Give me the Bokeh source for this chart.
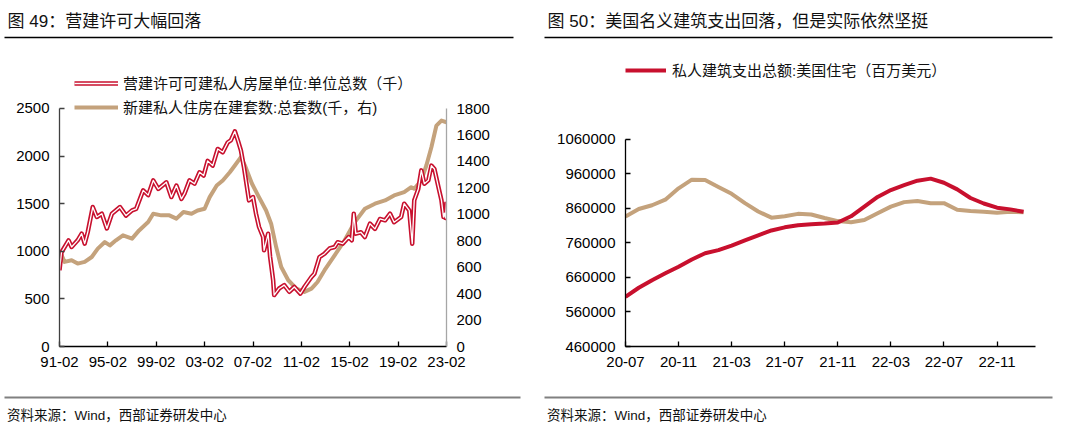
from bokeh.plotting import figure
from bokeh.models import Range1d, LinearAxis, FixedTicker, Legend, LegendItem, NumeralTickFormatter
from bokeh.layouts import column, row
from bokeh.embed import file_html
from bokeh.resources import INLINE
from bokeh.core.properties import value

RED = "#C8102E"
TAN = "#C4A27C"
NUM_FONT = "Liberation Sans"
CJK_FONT = "Liberation Sans, Noto Sans CJK SC"

# ---------------- data: chart 49 ----------------
permit_dates = ["1991-02", "1991-04", "1991-11", "1992-02", "1992-08", "1992-12", "1993-03", "1993-06",
                "1993-11", "1994-03", "1994-08", "1995-01", "1995-06", "1996-02", "1996-08", "1997-02",
                "1997-06", "1998-01", "1998-06", "1998-11", "1999-04", "1999-12", "2000-05", "2000-10",
                "2001-03", "2001-06", "2001-11", "2002-04", "2002-09", "2003-01", "2003-05", "2003-10",
                "2004-03", "2004-08", "2005-01", "2005-04", "2005-08", "2005-11", "2006-02", "2006-05",
                "2006-07", "2006-10", "2007-02", "2007-05", "2007-08", "2007-12", "2008-01", "2008-05",
                "2008-07", "2008-10", "2008-11", "2009-04", "2009-09", "2010-02", "2010-07", "2011-01",
                "2011-05", "2011-12", "2012-03", "2012-06", "2012-08", "2013-01", "2013-06", "2013-11",
                "2014-02", "2014-07", "2015-01", "2015-04", "2015-06", "2015-08", "2016-01", "2016-05",
                "2016-10", "2017-03", "2017-08", "2018-01", "2018-06", "2018-10", "2019-05", "2019-08",
                "2020-01", "2020-04", "2020-06", "2020-10", "2021-01", "2021-04", "2021-08", "2021-11",
                "2022-02", "2022-06", "2022-09", "2022-11", "2022-12", "2023-01", "2023-02"]
permit_values = [800, 990, 1115, 1045, 1115, 1185, 1080, 1200,
                 1465, 1360, 1395, 1240, 1395, 1465, 1375, 1430,
                 1445, 1640, 1590, 1745, 1655, 1725, 1570, 1690,
                 1550, 1605, 1745, 1710, 1830, 1795, 1950, 1900,
                 2075, 2040, 2145, 2165, 2260, 2165, 2060, 1885,
                 1745, 1535, 1570, 1395, 1255, 1150, 1010, 1185,
                 940, 695, 540, 610, 645, 575, 625, 555,
                 625, 730, 765, 870, 940, 975, 1030, 1045,
                 1095, 1080, 1150, 1115, 1395, 1185, 1200, 1150,
                 1290, 1235, 1340, 1325, 1395, 1305, 1360, 1500,
                 1430, 1080, 1535, 1655, 1850, 1710, 1745, 1900,
                 1865, 1675, 1535, 1360, 1400, 1350, 1520]

starts_dates = ["1991-02", "1991-07", "1992-02", "1992-08", "1993-03", "1993-10", "1994-04", "1994-11",
                "1995-04", "1995-10", "1996-05", "1997-02", "1997-09", "1998-06", "1998-11", "1999-07",
                "2000-03", "2000-10", "2001-05", "2002-01", "2002-07", "2003-02", "2003-07", "2004-02",
                "2004-08", "2005-03", "2005-08", "2006-02", "2006-06", "2007-01", "2007-07", "2008-03",
                "2008-08", "2009-01", "2009-06", "2010-01", "2010-09", "2011-05", "2011-12", "2012-03",
                "2012-06", "2013-01", "2013-11", "2014-09", "2015-07", "2016-05", "2017-03", "2018-01",
                "2018-10", "2019-08", "2020-03", "2020-06", "2021-01", "2021-06", "2021-11", "2022-04",
                "2022-09", "2023-02"]
starts_values = [727, 640, 652, 627, 640, 677, 740, 790,
                 765, 803, 841, 816, 878, 941, 1004, 992,
                 992, 967, 1017, 1004, 1029, 1042, 1130, 1218,
                 1256, 1318, 1369, 1432, 1369, 1231, 1143, 1029,
                 929, 752, 601, 501, 438, 413, 438, 463,
                 488, 577, 690, 803, 941, 1042, 1080, 1105,
                 1143, 1168, 1205, 1193, 1256, 1369, 1507, 1671,
                 1709, 1696]

x49_ticks = [0, 48, 96, 144, 192, 240, 288, 336, 384]
x49_labels = ["91-02", "95-02", "99-02", "03-02", "07-02", "11-02", "15-02", "19-02", "23-02"]
y49_left_ticks = [0, 500, 1000, 1500, 2000, 2500]
y49_right_ticks = [0, 200, 400, 600, 800, 1000, 1200, 1400, 1600, 1800]

# ---------------- data: chart 50 ----------------
spend_months = ["2020-07", "2020-08", "2020-09", "2020-10", "2020-11", "2020-12", "2021-01", "2021-02",
                "2021-03", "2021-04", "2021-05", "2021-06", "2021-07", "2021-08", "2021-09", "2021-10",
                "2021-11", "2021-12", "2022-01", "2022-02", "2022-03", "2022-04", "2022-05", "2022-06",
                "2022-07", "2022-08", "2022-09", "2022-10", "2022-11", "2022-12", "2023-01"]
nominal_values = [604000, 630000, 652000, 672000, 691000, 712000, 730000, 739000,
                  752000, 767000, 782000, 796000, 805000, 811000, 814000, 816000,
                  819000, 837000, 865000, 893000, 913000, 927000, 940000, 946000,
                  934000, 915000, 890000, 874000, 862000, 857000, 850000]
real_values = [836000, 858000, 869000, 885000, 918000, 943000, 942000, 922000,
               902000, 875000, 851000, 833000, 837000, 844000, 842000, 832000,
               823000, 820000, 826000, 846000, 865000, 878000, 881000, 875000,
               875000, 856000, 852000, 850000, 847000, 850000, 849000]
x50_ticks = [0, 4, 8, 12, 16, 20, 24, 28]
x50_labels = ["20-07", "20-11", "21-03", "21-07", "21-11", "22-03", "22-07", "22-11"]
y50_ticks = [460000, 560000, 660000, 760000, 860000, 960000, 1060000]

titles = ["图 49：营建许可大幅回落", "图 50：美国名义建筑支出回落，但是实际依然坚挺"]
source_text = "资料来源：Wind，西部证券研发中心"


def month_index(s, y0, m0):
    y, m = s.split("-")
    return (int(y) - y0) * 12 + int(m) - m0


def style_axis(ax, tick_in=5, line_color="black"):
    ax.major_tick_in = tick_in
    ax.major_tick_out = 0
    ax.minor_tick_line_color = None
    ax.axis_line_color = line_color
    ax.axis_line_width = 1.3
    ax.major_tick_line_color = line_color
    ax.major_tick_line_width = 1.3
    ax.major_label_text_font = NUM_FONT
    ax.major_label_text_font_size = "15px"
    ax.major_label_text_color = "black"
    ax.major_label_standoff = 10


# ---------------- top strip ----------------
top = figure(width=1071, height=45, x_range=Range1d(0, 1071), y_range=Range1d(45, 0),
             toolbar_location=None, output_backend="svg", min_border=0,
             x_axis_location=None, y_axis_location=None)
top.grid.visible = False
top.outline_line_color = None
top.text(x=[7, 547], y=[20.5, 20.5], text=titles, text_font=value(CJK_FONT),
         text_font_size="17px", text_baseline="middle", text_align="left", text_color="#111111")
top.segment(x0=[4, 544], y0=[37, 37], x1=[513, 1052], y1=[37, 37], line_color="black", line_width=1.5)

# ---------------- bottom strip ----------------
bot = figure(width=1071, height=42, x_range=Range1d(0, 1071), y_range=Range1d(42, 0),
             toolbar_location=None, output_backend="svg", min_border=0,
             x_axis_location=None, y_axis_location=None)
bot.grid.visible = False
bot.outline_line_color = None
bot.segment(x0=[4, 544], y0=[7, 7], x1=[520, 1052], y1=[7, 7], line_color="#808080", line_width=2)
bot.text(x=[6.5, 546.5], y=[25, 25], text=[source_text, source_text], text_font=value(CJK_FONT),
         text_font_size="13.5px", text_baseline="middle", text_align="left", text_color="#111111")

# ---------------- chart 49 ----------------
px = [month_index(d, 1991, 2) for d in permit_dates]
sx = [month_index(d, 1991, 2) for d in starts_dates]

p1 = figure(width=545, height=345, x_range=Range1d(0, 384), y_range=Range1d(0, 2983),
            toolbar_location=None, output_backend="svg",
            min_border_left=59, min_border_right=99, min_border_top=17, min_border_bottom=44)
p1.extra_y_ranges = {"right": Range1d(0, 2148)}
p1.grid.visible = False
p1.outline_line_color = None

r_tan = p1.line(sx, starts_values, y_range_name="right", line_color=TAN, line_width=4, line_join="round")
r_red = p1.line(px, permit_values, line_color=RED, line_width=4.5, line_join="round")
r_white = p1.line(px, permit_values, line_color="white", line_width=1.3, line_join="round")

p1.xaxis.ticker = FixedTicker(ticks=x49_ticks)
p1.xaxis.major_label_overrides = dict(zip(x49_ticks, x49_labels))
style_axis(p1.xaxis[0])
p1.yaxis.ticker = FixedTicker(ticks=y49_left_ticks)
p1.yaxis.bounds = (0, 2500)
style_axis(p1.yaxis[0], line_color="#404040")

ax_r = LinearAxis(y_range_name="right", ticker=FixedTicker(ticks=y49_right_ticks), bounds=(0, 1800))
style_axis(ax_r, tick_in=0, line_color="#A6A6A6")
ax_r.major_tick_line_color = None
p1.add_layout(ax_r, "right")

leg1 = Legend(items=[LegendItem(label="营建许可可建私人房屋单位:单位总数（千）", renderers=[r_red, r_white]),
                     LegendItem(label="新建私人住房在建套数:总套数(千，右)", renderers=[r_tan])],
              location=(15, 229), label_text_font=CJK_FONT, label_text_font_size="15px",
              label_text_color="#111111",
              glyph_width=44, glyph_height=20, label_height=20, padding=4, spacing=3, margin=0,
              label_standoff=5, border_line_color=None, background_fill_color="white",
              background_fill_alpha=1.0)
p1.add_layout(leg1)

# ---------------- chart 50 ----------------
mx = [month_index(d, 2020, 7) for d in spend_months]

p2 = figure(width=526, height=345, x_range=Range1d(0, 30.9), y_range=Range1d(460000, 1282222),
            toolbar_location=None, output_backend="svg",
            min_border_left=80, min_border_right=36, min_border_top=11, min_border_bottom=38)
p2.grid.visible = False
p2.outline_line_color = None

r_real = p2.line(mx, real_values, line_color=TAN, line_width=4, line_join="round")
r_nom = p2.line(mx, nominal_values, line_color=RED, line_width=4, line_join="round")

p2.xaxis.ticker = FixedTicker(ticks=x50_ticks)
p2.xaxis.major_label_overrides = dict(zip(x50_ticks, x50_labels))
style_axis(p2.xaxis[0])
p2.yaxis.ticker = FixedTicker(ticks=y50_ticks)
p2.yaxis.formatter = NumeralTickFormatter(format="0")
p2.yaxis.bounds = (460000, 1060000)
style_axis(p2.yaxis[0])

leg2 = Legend(items=[LegendItem(label="私人建筑支出总额:美国住宅（百万美元）", renderers=[r_nom])],
              location=(0, 265.7), label_text_font=CJK_FONT, label_text_font_size="15px",
              label_text_color="#111111",
              glyph_width=41, glyph_height=20, label_height=20, padding=2, spacing=3, margin=0,
              label_standoff=6, border_line_color=None, background_fill_color="white",
              background_fill_alpha=1.0)
p2.add_layout(leg2)

layout = column(top, row(p1, p2, spacing=0), bot, spacing=0)
open("out.html", "w").write(file_html(layout, INLINE))
